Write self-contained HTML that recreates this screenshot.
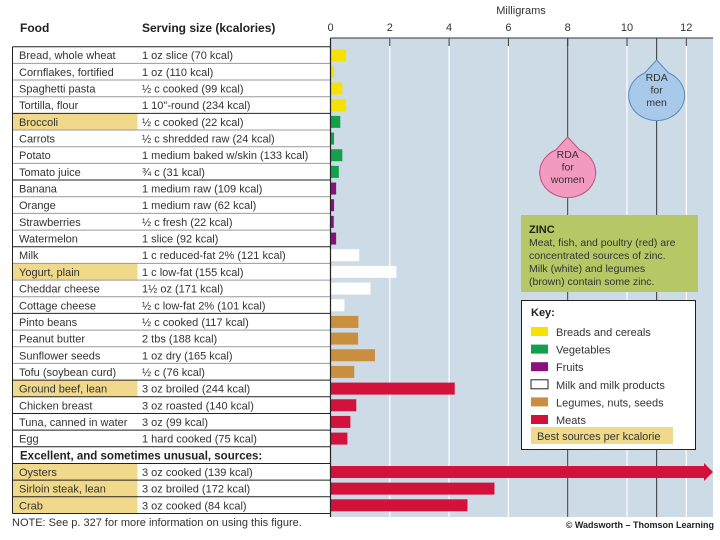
<!DOCTYPE html>
<html><head><meta charset="utf-8"><style>
body{margin:0;background:#fff;}
svg{display:block;font-family:"Liberation Sans",sans-serif;}
</style></head><body>
<svg id="c" width="720" height="540" viewBox="0 0 720 540"></svg>
<script>
const foods=["Bread, whole wheat","Cornflakes, fortified","Spaghetti pasta","Tortilla, flour","Broccoli","Carrots","Potato","Tomato juice","Banana","Orange","Strawberries","Watermelon","Milk","Yogurt, plain","Cheddar cheese","Cottage cheese","Pinto beans","Peanut butter","Sunflower seeds","Tofu (soybean curd)","Ground beef, lean","Chicken breast","Tuna, canned in water","Egg","","Oysters","Sirloin steak, lean","Crab"];
const servings=["1 oz slice (70 kcal)","1 oz (110 kcal)","½ c cooked (99 kcal)","1 10\"-round (234 kcal)","½ c cooked (22 kcal)","½ c shredded raw (24 kcal)","1 medium baked w/skin (133 kcal)","¾ c (31 kcal)","1 medium raw (109 kcal)","1 medium raw (62 kcal)","½ c fresh (22 kcal)","1 slice (92 kcal)","1 c reduced-fat 2% (121 kcal)","1 c low-fat (155 kcal)","1½ oz (171 kcal)","½ c low-fat 2% (101 kcal)","½ c cooked (117 kcal)","2 tbs (188 kcal)","1 oz dry (165 kcal)","½ c (76 kcal)","3 oz broiled (244 kcal)","3 oz roasted (140 kcal)","3 oz (99 kcal)","1 hard cooked (75 kcal)","","3 oz cooked (139 kcal)","3 oz broiled (172 kcal)","3 oz cooked (84 kcal)"];
const zinc=[0.53,0.12,0.4,0.53,0.33,0.12,0.4,0.28,0.19,0.12,0.11,0.19,0.97,2.22,1.35,0.47,0.94,0.93,1.5,0.8,4.19,0.87,0.67,0.57,null,76,5.53,4.62];
const groups=["b","b","b","b","v","v","v","v","f","f","f","f","m","m","m","m","l","l","l","l","t","t","t","t","","t","t","t"];
const best=[4,13,20,25,26,27];
const ticks=[0,2,4,6,8,10,12];
const rdaWomen=8, rdaMen=11;
const colors={b:"#f7e100",v:"#13a04a",f:"#8a1080",m:"#ffffff",l:"#c98e3e",t:"#d2123b"};
const keyLabels=["Breads and cereals","Vegetables","Fruits","Milk and milk products","Legumes, nuts, seeds","Meats"];
const keyGroups=["b","v","f","m","l","t"];

const svg=document.getElementById('c');const NS="http://www.w3.org/2000/svg";
function el(t,a,p){const e=document.createElementNS(NS,t);for(const k in a)e.setAttribute(k,a[k]);(p||svg).appendChild(e);return e;}
function txt(s,a,p){const e=el('text',a,p);e.textContent=s;return e;}
const x0=330.5,pxPer=29.65,xMax=713;
const X=v=>x0+v*pxPer;
const rowTop=i=>46.7+16.67*i, rowH=16.67;
const plotTop=38,plotBot=517;

// plot bg
let bg=el('rect',{x:x0,y:plotTop,width:xMax-x0,height:plotBot-plotTop,fill:"#ccdbe6"});

txt("Milligrams",{x:521,y:14,"font-size":11,"text-anchor":"middle",fill:"#333"});
el('line',{x1:x0,y1:plotTop,x2:xMax,y2:plotTop,stroke:"#333","stroke-width":1});
ticks.forEach(t=>{
  const x=X(t);
  if(t>0){const g=el('line',{x1:x,y1:plotTop,x2:x,y2:plotBot,stroke:"#fff","stroke-width":1.2});
  el('line',{x1:x,y1:plotTop,x2:x,y2:plotTop+8,stroke:"#333","stroke-width":1});}
  const l=txt(String(t),{x:x,y:31,"font-size":11,"text-anchor":"middle",fill:"#333"});
  
});
[rdaWomen,rdaMen].forEach(v=>{const l=el('line',{x1:X(v),y1:plotTop,x2:X(v),y2:plotBot,stroke:"#333","stroke-width":1});});

// table
el('rect',{x:12.5,y:rowTop(0),width:318,height:rowTop(28)-rowTop(0),fill:"#fff"});
txt("Food",{x:20,y:32,"font-size":12,"font-weight":"bold",fill:"#222"});
txt("Serving size (kcalories)",{x:142,y:32,"font-size":12,"font-weight":"bold",fill:"#222"});
best.forEach(i=>{const r=el('rect',{x:12.5,y:rowTop(i),width:125,height:rowH,fill:"#f0d98a"});});
for(let i=0;i<=28;i++){const dark=[0,4,8,12,16,20,21,22,23,24,25,26,27,28].includes(i);
  el('line',{x1:12.5,y1:rowTop(i),x2:x0,y2:rowTop(i),stroke:dark?"#222":"#999","stroke-width":1});}
el('line',{x1:12.5,y1:rowTop(0),x2:12.5,y2:rowTop(28),stroke:"#222"});
foods.forEach((f,i)=>{
  const y=rowTop(i)+12.5;
  if(i===24){const h=txt("Excellent, and sometimes unusual, sources:",{x:20,y:y,"font-size":11.5,"font-weight":"bold",fill:"#222"});return;}
  const a=txt(f,{x:19,y:y,"font-size":11,fill:"#333"});
  const b=txt(servings[i],{x:142,y:y,"font-size":11,fill:"#333"});
});
// bars
zinc.forEach((v,i)=>{
  if(v===null)return;
  const y=rowTop(i)+2.5,h=12,c=colors[groups[i]];
  let w=X(v)-x0;
  if(X(v)>xMax){
    const p=el('polygon',{points:`${x0},${y} ${xMax-9},${y} ${xMax-9},${y-3} ${xMax},${y+h/2} ${xMax-9},${y+h+3} ${xMax-9},${y+h} ${x0},${y+h}`,fill:c});
    return;
  }
  const r=el('rect',{x:x0,y:y,width:w,height:h,fill:c});
  
});
el('line',{x1:x0,y1:plotTop,x2:x0,y2:plotBot,stroke:"#222","stroke-width":1.2});

// drops
function drop(cx,cy,fill,stroke,lines,name){
  const g=el('g',{});
  el('path',{d:`M${cx},${cy-30} L${cx-12},${cy-17} A28,25 0 1,0 ${cx+12},${cy-17} Z`,fill:fill,stroke:stroke,"stroke-width":1},g);
  lines.forEach((s,k)=>txt(s,{x:cx,y:cy-9+k*12.5,"font-size":10.5,"text-anchor":"middle",fill:"#333"},g));
}
drop(X(rdaMen),90,"#a9c9ea","#5a8ab8",["RDA","for","men"],"rda-men-marker");
drop(X(rdaWomen),167,"#f29ac0","#c0507e",["RDA","for","women"],"rda-women-marker");

// zinc note
const zg=el('g',{});
el('rect',{x:521,y:215,width:177,height:77,fill:"#b5c865"},zg);
txt("ZINC",{x:529,y:233,"font-size":11,"font-weight":"bold",fill:"#222"},zg);
["Meat, fish, and poultry (red) are","concentrated sources of zinc.","Milk (white) and legumes","(brown) contain some zinc."].forEach((s,k)=>txt(s,{x:529,y:246+k*13,"font-size":10.5,fill:"#333"},zg));

// key
const kg=el('g',{});
el('rect',{x:521.5,y:300.5,width:174,height:149,fill:"#fff",stroke:"#222"},kg);
txt("Key:",{x:531,y:316,"font-size":11,"font-weight":"bold",fill:"#222"},kg);
keyGroups.forEach((g,k)=>{
  const y=327+k*17.6;
  const e=el('g',{},kg);
  el('rect',{x:531,y:y,width:17,height:9,fill:colors[g],stroke:g==="m"?"#222":"none"},e);
  txt(keyLabels[k],{x:556,y:y+9,"font-size":11,fill:"#333"},e);
});
el('rect',{x:531,y:427,width:142,height:17,fill:"#f0d98a"},kg);
txt("Best sources per kcalorie",{x:537,y:440,"font-size":11,fill:"#333"},kg);

txt("NOTE: See p. 327 for more information on using this figure.",{x:12,y:526,"font-size":11,fill:"#333"});
txt("© Wadsworth – Thomson Learning",{x:714,y:528,"font-size":9,"font-weight":"bold","text-anchor":"end",fill:"#222"});
</script>
</body></html>
